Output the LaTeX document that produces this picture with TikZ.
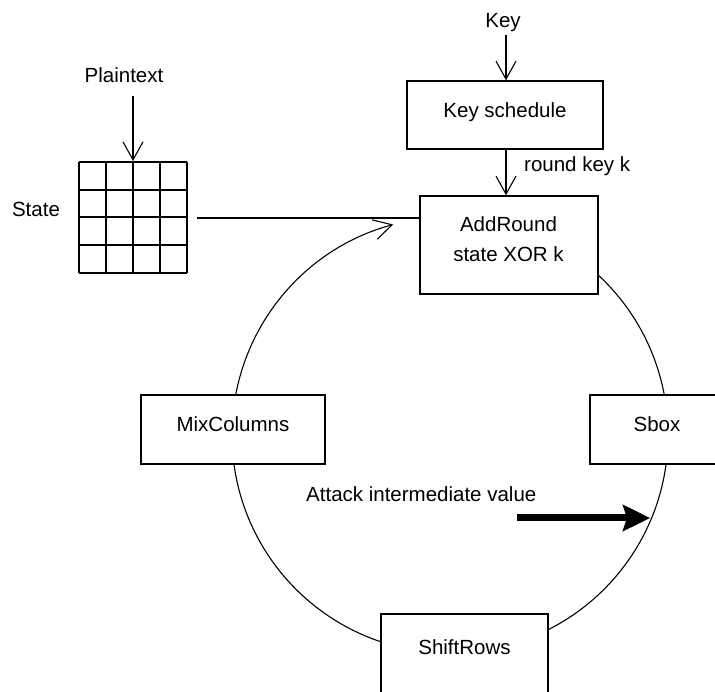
\documentclass[tikz,border=0pt]{standalone}
\usepackage{fontspec}
\setmainfont{Liberation Sans}
\usetikzlibrary{arrows.meta}
\begin{document}
\begin{tikzpicture}[x=1pt,y=1pt,
  every node/.style={font=\fontsize{20.5}{24}\selectfont, inner sep=0pt},
  conn/.style={line width=1.1pt, -{Straight Barb[length=18pt,width=20pt,line width=1.1pt]}},
  stepbox/.style={draw, line width=1.5pt, fill=white},
  ring/.style={line width=1.1pt},
  attack/.style={line width=7pt, -{Stealth[length=27pt,width=26pt,inset=4pt]}},
  gridline/.style={line width=2pt}]
\useasboundingbox (0,0) rectangle (715,691);
\clip (0,0) rectangle (715,691);
\coordinate (c) at (450,256);
% ring
\draw[ring] (c) ++(52:218) arc[start angle=52, end angle=-180, radius=218];
\draw[ring, -{Straight Barb[length=18pt,width=20pt,line width=1.1pt]}] (c) ++(180:218) arc[start angle=180, end angle=105.1, radius=218] coordinate (arcend);
% boxes
\node[stepbox, minimum width=196pt, minimum height=68pt] (ks) at (505,576) {};
\node[anchor=base] (kstext) at (505,573.5) {Key schedule};
\node[stepbox, minimum width=178pt, minimum height=98pt] (ar) at (509,446) {};
\node[anchor=base] (ar1) at (508.5,459) {AddRound};
\node[anchor=base] (ar2) at (508.5,429) {state XOR k};
\node[stepbox, minimum width=184pt, minimum height=69pt] (mc) at (233,261.5) {};
\node[anchor=base] (mctext) at (233,259) {MixColumns};
\node[stepbox, minimum width=134pt, minimum height=69pt] (sb) at (657,261.5) {};
\node[anchor=base] (sbtext) at (657,259) {Sbox};
\node[stepbox, minimum width=167pt, minimum height=98pt] (sr) at (464.5,28) {};
\node[anchor=base] (srtext) at (464.5,36) {ShiftRows};
% state grid
\foreach \i in {0,...,4}{
  \draw[gridline] (79+27*\i,418.3) -- (79+27*\i,528.7);
  \draw[gridline] (79,418.3+27.6*\i) -- (187,418.3+27.6*\i);
}
\coordinate (gridtop) at (133,530);
\coordinate (gridright) at (197,473);
% texts
\node[anchor=base] (pt) at (124,608) {Plaintext};
\node[anchor=base] (st) at (36,474) {State};
\node[anchor=base] (key) at (503,663) {Key};
\node[anchor=base west] (rk) at (524,519) {round key k};
\node[anchor=base west] (att) at (306,189) {Attack intermediate value};
% connectors
\coordinate (ptstart) at (133,595);
\draw[conn] (ptstart) -- (gridtop);
\coordinate (keystart) at (506,656);
\draw[conn] (keystart) -- (keystart |- ks.north);
\draw[conn] ([xshift=1pt]ks.south) -- ([xshift=-3pt]ar.north);
\draw[line width=1.1pt] (gridright) -- (gridright -| ar.west);
\coordinate (attstart) at (517,173);
\coordinate (attend) at (650,173);
\draw[attack] (attstart) -- (attend);
\end{tikzpicture}
\end{document}
